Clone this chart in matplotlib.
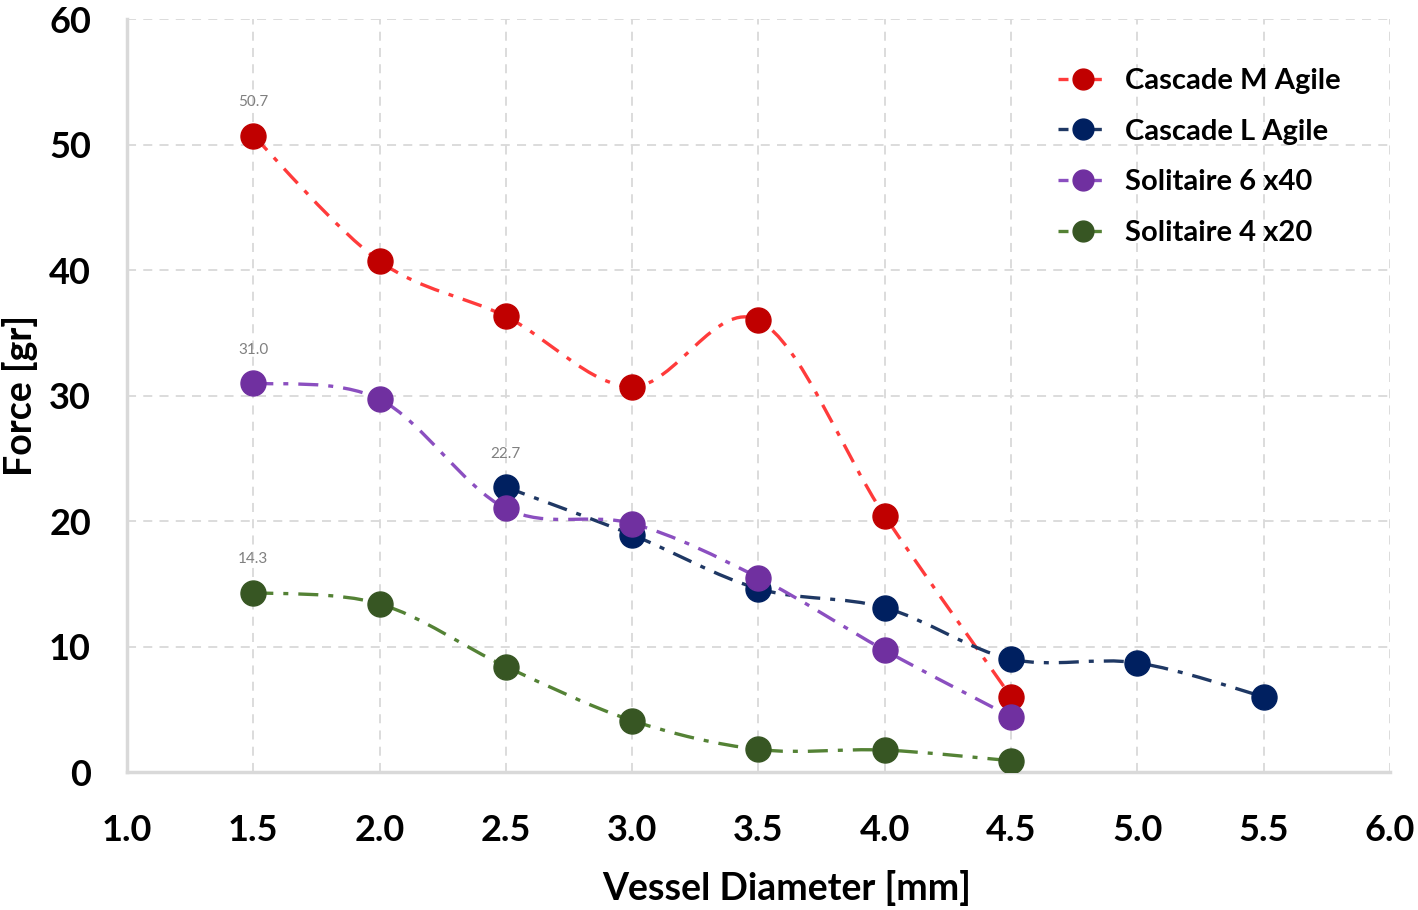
import matplotlib.pyplot as plt
import numpy as np
from matplotlib.path import Path
from matplotlib.patches import PathPatch
from matplotlib.lines import Line2D

# data
diam_m = [1.5, 2.0, 2.5, 3.0, 3.5, 4.0, 4.5]
force_m = [50.7, 40.7, 36.3, 30.7, 36.0, 20.4, 6.0]
diam_l = [2.5, 3.0, 3.5, 4.0, 4.5, 5.0, 5.5]
force_l = [22.7, 18.9, 14.6, 13.1, 9.0, 8.7, 6.0]
diam_s6 = [1.5, 2.0, 2.5, 3.0, 3.5, 4.0, 4.5]
force_s6 = [31.0, 29.7, 21.0, 19.8, 15.5, 9.7, 4.4]
diam_s4 = [1.5, 2.0, 2.5, 3.0, 3.5, 4.0, 4.5]
force_s4 = [14.3, 13.4, 8.4, 4.1, 1.8, 1.75, 0.9]

names = ["Cascade M Agile", "Cascade L Agile", "Solitaire 6 x40", "Solitaire 4 x20"]
xs = [diam_m, diam_l, diam_s6, diam_s4]
ys = [force_m, force_l, force_s6, force_s4]
marker_colors = ["#C00000", "#002060", "#7030A0", "#375623"]
line_colors = ["#FF3B3B", "#1F3864", "#8B4FC0", "#548235"]

plt.rcParams["font.family"] = ["Lato", "DejaVu Sans"]

fig = plt.figure(figsize=(14.18, 9.10), dpi=100)
ax = fig.add_axes([0.0896, 0.1516, 0.8906, 0.8275])


def smooth_path(x, y):
    # Excel-style smoothed line: cubic bezier through the points
    p = np.column_stack([x, y]).astype(float)
    n = len(p)
    verts = [p[0]]
    codes = [Path.MOVETO]
    for i in range(n - 1):
        p0 = p[i - 1] if i > 0 else p[i]
        p3 = p[i + 2] if i + 2 < n else p[i + 1]
        c1 = p[i] + (p[i + 1] - p0) / 6
        c2 = p[i + 1] - (p3 - p[i]) / 6
        verts += [c1, c2, p[i + 1]]
        codes += [Path.CURVE4] * 3
    return Path(verts, codes)


for x, y, name, mc, lc in zip(xs, ys, names, marker_colors, line_colors):
    patch = PathPatch(smooth_path(x, y), fill=False, edgecolor=lc, lw=2.4,
                      linestyle=(0, (6, 3, 1.5, 3)), zorder=2)
    ax.add_patch(patch)
    ax.plot(x, y, ls="none", marker="o", ms=18, color=mc, zorder=3)
    ax.annotate(f"{y[0]:.1f}", (x[0], y[0]), xytext=(0, 24), textcoords="offset points",
                ha="center", va="center", fontsize=11, color="#808080")

ax.set_xlim(1.0, 6.0)
ax.set_ylim(0, 60)
ax.set_xticks(np.arange(1.0, 6.01, 0.5))
ax.set_xticklabels([f"{v:.1f}" for v in np.arange(1.0, 6.01, 0.5)])
ax.set_yticks(range(0, 61, 10))

ax.grid(True, linestyle=(0, (5, 4)), color="#D9D9D9", lw=1.3)
ax.set_axisbelow(True)
for s in ["top", "right"]:
    ax.spines[s].set_visible(False)
for s in ["left", "bottom"]:
    ax.spines[s].set_color("#D9D9D9")
    ax.spines[s].set_linewidth(2.5)
ax.tick_params(length=0, labelsize=26)
ax.tick_params(axis="y", pad=26)
ax.tick_params(axis="x", pad=30)
for lab in ax.get_xticklabels() + ax.get_yticklabels():
    lab.set_fontweight("bold")

ax.set_xlabel("Vessel Diameter [mm]", fontsize=27, fontweight="bold", labelpad=14)
ax.xaxis.set_label_coords(0.5226, -0.13)
ax.set_ylabel("Force [gr]", fontsize=27, fontweight="bold", labelpad=8)

handles = [Line2D([], [], color=lc, ls=(0, (3, 2)), lw=2.4, marker="o", ms=15,
                  markerfacecolor=mc, markeredgecolor=mc)
           for mc, lc in zip(marker_colors, line_colors)]
leg = ax.legend(handles, names, loc="upper right", bbox_to_anchor=(0.982, 0.97),
                frameon=False, fontsize=21, handlelength=1.7, labelspacing=0.85,
                handletextpad=0.6)
for t in leg.get_texts():
    t.set_fontweight("bold")

fig.savefig("out.png", dpi=100)
